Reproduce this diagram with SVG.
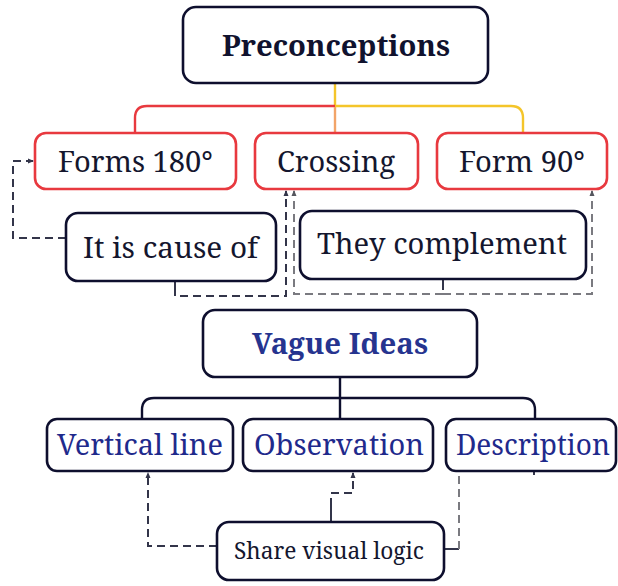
<svg xmlns="http://www.w3.org/2000/svg" width="618" height="586" viewBox="0 0 618 586">
<defs>
<style>
text{font-family:"Noto Serif","DejaVu Serif","Liberation Serif",serif;text-anchor:middle;}
.dk{fill:#fff;stroke:#0e0f2e;stroke-width:2.6;}
.rd{fill:#fff;stroke:#e8393f;stroke-width:2.6;}
.t1{font-size:29px;fill:#14162e;}
.t2{font-size:29px;fill:#1f2a8c;}
.h1{font-size:28px;font-weight:bold;fill:#10122e;}
.h2{font-size:28px;font-weight:bold;fill:#26348f;}
.c{fill:none;stroke-width:2.4;}
.dd{fill:none;stroke:#33354a;stroke-width:2;stroke-dasharray:8 5;}
.dg{fill:none;stroke:#7a7a80;stroke-width:2;stroke-dasharray:8 5;}
.s{fill:none;stroke:#33354a;stroke-width:2;}
</style>
<marker id="ad" viewBox="0 0 6 6" refX="5" refY="3" markerWidth="6" markerHeight="6" markerUnits="userSpaceOnUse" orient="auto"><path d="M0,0.5 L6,3 L0,5.5Z" fill="#33354a"/></marker>
<marker id="ag" viewBox="0 0 6 6" refX="5" refY="3" markerWidth="6" markerHeight="6" markerUnits="userSpaceOnUse" orient="auto"><path d="M0,0.5 L6,3 L0,5.5Z" fill="#55565e"/></marker>
</defs>
<g id="connectors">
<path class="c" stroke="#f4c52a" d="M335,83 V106 H511 Q523,106 523,118 V133"/>
<path class="c" stroke="#e8393f" d="M335,106 H147 Q135,106 135,118 V133"/>
<path class="c" stroke="#f2a468" d="M335,107 V133"/>
<path class="dd" d="M66,238 H13 V161 H33" marker-end="url(#ad)"/>
<path class="s" d="M175,281 V290"/>
<path class="dd" d="M175,288 V296 H286 V191" marker-end="url(#ad)"/>
<path class="s" d="M443,279 V290"/>
<path class="dg" d="M443,294 H294 V191" marker-end="url(#ag)"/>
<path class="dg" d="M443,294 H592 V191" marker-end="url(#ag)"/>
<path class="c" stroke="#0e0f2e" d="M340,377 V419 M340,398 H154 Q142,398 142,410 V419 M340,398 H523 Q535,398 535,410 V419"/>
<path class="dd" d="M217,546 H148 V473" marker-end="url(#ad)"/>
<path class="s" d="M331,522 V505"/>
<path class="dd" d="M331,506 V493 H353 V473" marker-end="url(#ad)"/>
<path class="s" d="M444,549 H459"/>
<path class="dg" d="M459,549 V472"/>
<path class="s" d="M534,471 V475"/>
</g>
<g id="preconceptions"><rect class="dk" x="183" y="7" width="305" height="76" rx="13"/><text class="h1" x="336" y="56" textLength="228" lengthAdjust="spacingAndGlyphs">Preconceptions</text></g>
<g id="forms180"><rect class="rd" x="35" y="133" width="201" height="56" rx="11"/><text class="t1" x="135.5" y="172" textLength="155" lengthAdjust="spacingAndGlyphs">Forms 180°</text></g>
<g id="crossing"><rect class="rd" x="255" y="133" width="163" height="56" rx="11"/><text class="t1" x="336" y="172" textLength="118" lengthAdjust="spacingAndGlyphs">Crossing</text></g>
<g id="form90"><rect class="rd" x="437" y="133" width="170" height="56" rx="11"/><text class="t1" x="522" y="172" textLength="126" lengthAdjust="spacingAndGlyphs">Form 90°</text></g>
<g id="causeof"><rect class="dk" x="66" y="213" width="210" height="68" rx="12"/><text class="t1" x="170.5" y="258" textLength="175" lengthAdjust="spacingAndGlyphs">It is cause of</text></g>
<g id="complement"><rect class="dk" x="300" y="211" width="286" height="68" rx="12"/><text class="t1" x="442" y="254" textLength="250" lengthAdjust="spacingAndGlyphs">They complement</text></g>
<g id="vague"><rect class="dk" x="203" y="310" width="274" height="67" rx="12"/><text class="h2" x="340" y="354" textLength="176" lengthAdjust="spacingAndGlyphs">Vague Ideas</text></g>
<g id="vertical"><rect class="dk" x="47" y="419" width="186" height="52" rx="10"/><text class="t2" x="140" y="455" textLength="166" lengthAdjust="spacingAndGlyphs">Vertical line</text></g>
<g id="observation"><rect class="dk" x="243" y="419" width="190" height="52" rx="10"/><text class="t2" x="339" y="455" textLength="170" lengthAdjust="spacingAndGlyphs">Observation</text></g>
<g id="description"><rect class="dk" x="446" y="419" width="170" height="52" rx="10"/><text class="t2" x="533" y="455" textLength="154" lengthAdjust="spacingAndGlyphs">Description</text></g>
<g id="share"><rect class="dk" x="217" y="522" width="227" height="58" rx="12"/><text class="t1" x="329" y="559" style="font-size:23px" textLength="190" lengthAdjust="spacingAndGlyphs">Share visual logic</text></g>
</svg>
